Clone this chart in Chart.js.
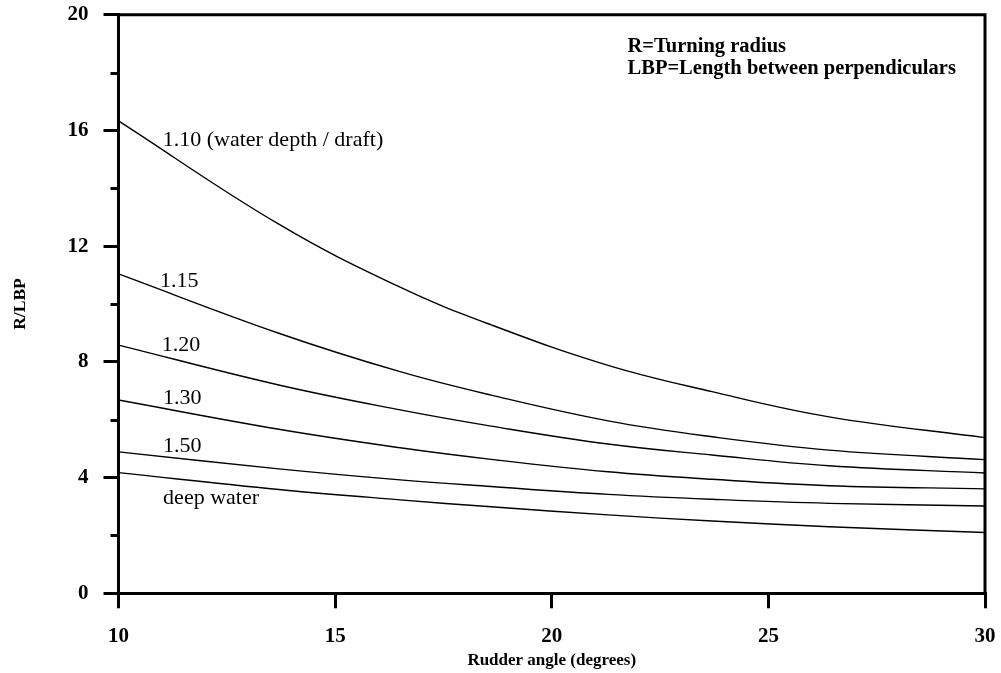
<!DOCTYPE html>
<html>
<head>
<meta charset="utf-8">
<script src="https://cdn.jsdelivr.net/npm/chart.js@4/dist/chart.umd.min.js"></script>
<style>
  html, body { margin: 0; padding: 0; background: #fff; }
  #wrap { width: 1001px; height: 673px; position: relative; }
</style>
</head>
<body>
<div id="wrap"><canvas id="c"></canvas></div>
<script>
// ---- data ----
const rudderAngles = [10, 13.7, 16.5, 18.6, 21.3, 23.7, 26.4, 30];
const depth110 = [16.33, 12.76, 10.58, 9.28, 7.88, 6.97, 6.10, 5.38];
const depth115 = [11.04, 8.99, 7.66, 6.85, 5.96, 5.41, 4.95, 4.62];
const depth120 = [8.58, 7.20, 6.34, 5.78, 5.16, 4.78, 4.41, 4.16];
const depth130 = [6.68, 5.67, 5.03, 4.63, 4.20, 3.94, 3.72, 3.61];
const depth150 = [4.89, 4.30, 3.92, 3.69, 3.42, 3.25, 3.11, 3.02];
const deepWater = [4.17, 3.59, 3.23, 2.99, 2.71, 2.50, 2.30, 2.10];
const curveNames = ['1.10 (water depth / draft)', '1.15', '1.20', '1.30', '1.50', 'deep water'];
const noteLines = ['R=Turning radius', 'LBP=Length between perpendiculars'];
const xTitle = 'Rudder angle (degrees)';
const yTitle = 'R/LBP';
const minorYTicks = [2, 6, 10, 14, 18];

// ---- placement (data coordinates) ----
const curveLabelPos = [[11.02, 15.45], [10.96, 10.6], [11.0, 8.38], [11.03, 6.55], [11.03, 4.87], [11.03, 3.08]];
const notePos = [[21.75, 18.7], [21.75, 17.95]];

const FONT = "'Liberation Serif', 'Times New Roman', serif";
const series = [depth110, depth115, depth120, depth130, depth150, deepWater];

const datasets = series.map((vals, i) => ({
  label: curveNames[i],
  data: rudderAngles.map((a, j) => ({ x: a, y: vals[j] })),
  borderColor: '#000',
  borderWidth: 1.4,
  pointRadius: 0,
  fill: false,
  tension: 0.4
}));

const decor = {
  id: 'decor',
  afterDraw(chart) {
    const { ctx, chartArea: a, scales: { x, y } } = chart;
    ctx.save();
    ctx.strokeStyle = '#000';
    ctx.lineWidth = 3;
    ctx.lineJoin = 'miter';
    ctx.beginPath();
    ctx.moveTo(a.left, a.top);
    ctx.lineTo(a.right, a.top);
    ctx.lineTo(a.right, a.bottom);
    ctx.stroke();
    ctx.beginPath();
    minorYTicks.forEach(v => {
      const py = Math.round(y.getPixelForValue(v)) + 0.5;
      ctx.moveTo(a.left - 8, py);
      ctx.lineTo(a.left, py);
    });
    ctx.stroke();

    ctx.fillStyle = '#000';
    ctx.textBaseline = 'alphabetic';
    ctx.textAlign = 'left';
    ctx.font = '22px ' + FONT;
    curveNames.forEach((t, i) => {
      const [vx, vy] = curveLabelPos[i];
      ctx.fillText(t, x.getPixelForValue(vx), y.getPixelForValue(vy));
    });
    ctx.font = 'bold 20.5px ' + FONT;
    noteLines.forEach((t, i) => {
      const [vx, vy] = notePos[i];
      ctx.fillText(t, x.getPixelForValue(vx), y.getPixelForValue(vy));
    });
    ctx.restore();
  }
};

new Chart(document.getElementById('c'), {
  type: 'line',
  data: { datasets },
  options: {
    responsive: true,
    maintainAspectRatio: false,
    animation: false,
    layout: { padding: { top: 14.7, right: 16, bottom: 0, left: 0 } },
    plugins: { legend: { display: false }, tooltip: { enabled: false } },
    scales: {
      x: {
        type: 'linear',
        min: 10, max: 30,
        afterFit: s => { s.height = 79.7; s.paddingLeft = 0; s.paddingRight = 0; },
        ticks: { stepSize: 5, color: '#000', padding: 16, font: { family: FONT, size: 21, weight: 'bold' } },
        grid: { drawOnChartArea: false, drawTicks: true, tickLength: 15, color: '#000', lineWidth: 3 },
        border: { display: true, color: '#000', width: 3 },
        title: { display: true, text: xTitle, color: '#000', padding: { top: 0, bottom: 2 }, font: { family: FONT, size: 17, weight: 'bold' } }
      },
      y: {
        type: 'linear',
        min: 0, max: 20,
        afterFit: s => { s.width = 118.5; s.paddingTop = 0; s.paddingBottom = 0; },
        ticks: { stepSize: 4, color: '#000', padding: 15, font: { family: FONT, size: 21, weight: 'bold' } },
        grid: { drawOnChartArea: false, drawTicks: true, tickLength: 15, color: '#000', lineWidth: 3 },
        border: { display: true, color: '#000', width: 3 },
        title: { display: true, text: yTitle, color: '#000', padding: { top: 10, bottom: 0 }, font: { family: FONT, size: 17.5, weight: 'bold' } }
      }
    }
  },
  plugins: [decor]
});
</script>
</body>
</html>
